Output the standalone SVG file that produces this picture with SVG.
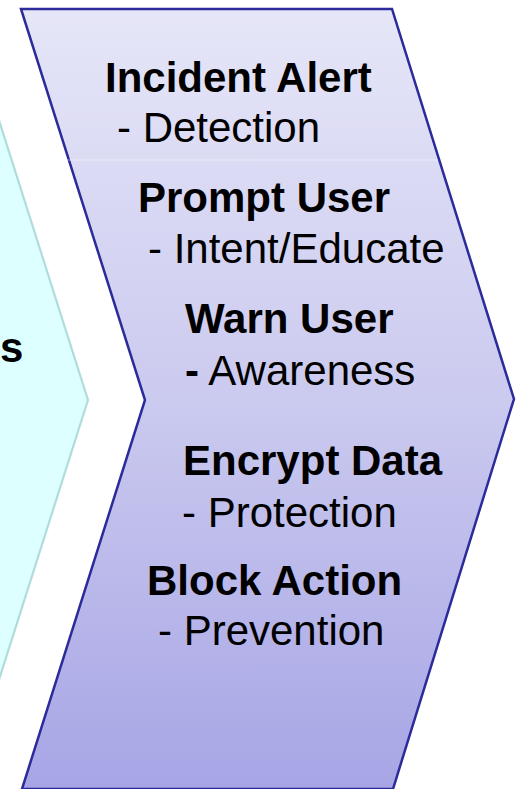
<svg xmlns="http://www.w3.org/2000/svg" width="516" height="789" viewBox="0 0 516 789">
<defs>
<linearGradient id="pg" x1="0" y1="0" x2="0" y2="1">
<stop offset="0" stop-color="#E6E6F8"/>
<stop offset="0.5" stop-color="#CBCAEF"/>
<stop offset="1" stop-color="#A7A5E5"/>
</linearGradient>
<style>
.b{font-family:"Liberation Sans",Arial,sans-serif;font-weight:bold;font-size:42px;fill:#000}
.r{font-family:"Liberation Sans",Arial,sans-serif;font-size:42px;fill:#000}
</style>
</defs>
<rect width="516" height="789" fill="#FFFFFF"/>
<g id="prev-step">
<path d="M-10,92 L88,400 L-10,708 Z" fill="#DDFFFF" stroke="#B0DCDC" stroke-width="2.2"/>
<text class="b" x="0" y="362">s</text>
</g>
<g id="actions">
<path d="M21,9 L392,9 L514,399 L393,789 L22,789 L145,400 Z" fill="url(#pg)" stroke="#2B2B9A" stroke-width="2.5" stroke-linejoin="miter"/>
<line x1="66" y1="160" x2="438" y2="160" stroke="#FFFFFF" stroke-opacity="0.45" stroke-width="1"/>
<text class="b" x="105" y="92">Incident Alert</text>
<text class="r" x="117" y="142">- Detection</text>
<text class="b" x="138" y="212">Prompt User</text>
<text class="r" x="148" y="263">- Intent/Educate</text>
<text class="b" x="185" y="333">Warn User</text>
<text class="r" x="185" y="385"><tspan font-weight="bold">-</tspan> Awareness</text>
<text class="b" x="183" y="475">Encrypt Data</text>
<text class="r" x="182" y="527">- Protection</text>
<text class="b" x="147" y="595">Block Action</text>
<text class="r" x="158" y="645">- Prevention</text>
</g>
</svg>
